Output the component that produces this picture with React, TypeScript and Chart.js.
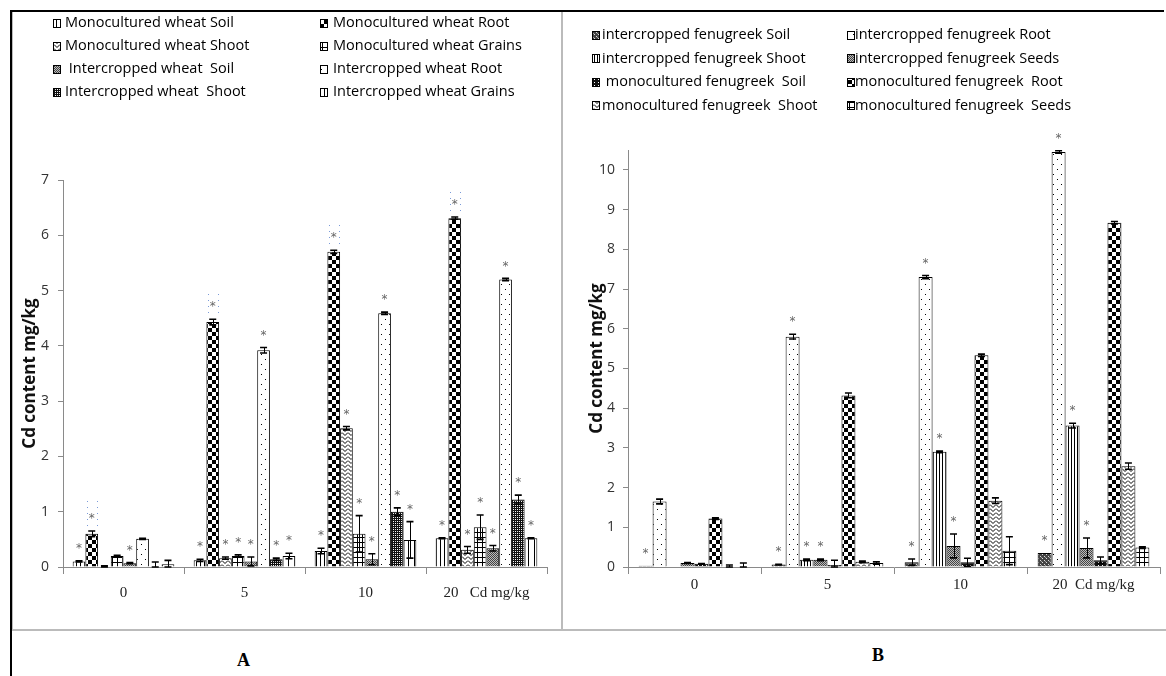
import React, { useEffect, useRef } from 'react';
import { Chart, registerables } from 'chart.js';
Chart.register(...registerables);

// ---------- data ----------
const categoriesA = ['0', '5', '10', '20   Cd mg/kg'];
const categoriesB = ['0', '5', '10', '20  Cd mg/kg'];

const seriesNamesA = [
  'Monocultured wheat Soil',
  'Monocultured wheat Root',
  'Monocultured wheat Shoot',
  'Monocultured wheat Grains',
  ' Intercropped wheat  Soil',
  'Intercropped wheat Root',
  'Intercropped wheat  Shoot',
  'Intercropped wheat Grains',
];
const monoWheatSoil = [0.1, 0.12, 0.29, 0.52];
const monoWheatRoot = [0.6, 4.43, 5.7, 6.31];
const monoWheatShoot = [0.01, 0.16, 2.51, 0.31];
const monoWheatGrains = [0.2, 0.2, 0.6, 0.72];
const interWheatSoil = [0.07, 0.1, 0.14, 0.34];
const interWheatRoot = [0.51, 3.92, 4.59, 5.2];
const interWheatShoot = [0.01, 0.14, 1.0, 1.22];
const interWheatGrains = [0.05, 0.2, 0.49, 0.52];

const monoWheatSoilErr = [0.01, 0.02, 0.05, 0.01];
const monoWheatRootErr = [0.05, 0.05, 0.03, 0.02];
const monoWheatShootErr = [0.01, 0.02, 0.03, 0.06];
const monoWheatGrainsErr = [0.01, 0.02, 0.33, 0.22];
const interWheatSoilErr = [0.01, 0.08, 0.1, 0.05];
const interWheatRootErr = [0.01, 0.05, 0.02, 0.02];
const interWheatShootErr = [0.08, 0.02, 0.07, 0.08];
const interWheatGrainsErr = [0.07, 0.05, 0.33, 0.01];

const monoWheatSoilStar = [1, 1, 1, 1];
const monoWheatRootStar = [1, 1, 1, 1];
const monoWheatShootStar = [0, 1, 1, 1];
const monoWheatGrainsStar = [0, 1, 1, 1];
const interWheatSoilStar = [1, 1, 1, 1];
const interWheatRootStar = [0, 1, 1, 1];
const interWheatShootStar = [0, 1, 1, 1];
const interWheatGrainsStar = [0, 1, 1, 1];

const seriesNamesB = [
  'intercropped fenugreek Soil',
  'intercropped fenugreek Root',
  'intercropped fenugreek Shoot',
  'intercropped fenugreek Seeds',
  ' monocultured fenugreek  Soil',
  'monocultured fenugreek  Root',
  'monocultured fenugreek  Shoot',
  'monocultured fenugreek  Seeds',
];
const interFenuSoil = [0.03, 0.06, 0.12, 0.35];
const interFenuRoot = [1.65, 5.8, 7.3, 10.45];
const interFenuShoot = [0, 0.18, 2.9, 3.56];
const interFenuSeeds = [0.1, 0.18, 0.53, 0.48];
const monoFenuSoil = [0.08, 0.05, 0.12, 0.17];
const monoFenuRoot = [1.22, 4.32, 5.33, 8.67];
const monoFenuShoot = [0, 0.13, 1.67, 2.54];
const monoFenuSeeds = [0, 0.1, 0.41, 0.49];

const interFenuSoilErr = [0, 0.01, 0.08, 0];
const interFenuRootErr = [0.06, 0.06, 0.04, 0.03];
const interFenuShootErr = [0, 0.02, 0.02, 0.06];
const interFenuSeedsErr = [0.01, 0.02, 0.3, 0.25];
const monoFenuSoilErr = [0.01, 0.12, 0.1, 0.08];
const monoFenuRootErr = [0.02, 0.06, 0.03, 0.03];
const monoFenuShootErr = [0.05, 0.02, 0.07, 0.08];
const monoFenuSeedsErr = [0.1, 0.03, 0.35, 0.02];

const interFenuSoilStar = [1, 1, 1, 1];
const interFenuRootStar = [0, 1, 1, 1];
const interFenuShootStar = [0, 1, 1, 1];
const interFenuSeedsStar = [0, 1, 1, 1];
const monoFenuSoilStar = [0, 0, 0, 0];
const monoFenuRootStar = [0, 0, 0, 0];
const monoFenuShootStar = [0, 0, 0, 0];
const monoFenuSeedsStar = [0, 0, 0, 0];

const yTicksA = { min: 0, max: 7, step: 1 };
const yTicksB = { min: 0, max: 10.5, step: 1 };

// ---------- styles ----------
const patternsA = ['vstripe', 'checker', 'zigzag', 'grid', 'gray', 'dots', 'darkdots', 'wstripe'];
const patternsB = ['diagcross', 'dots', 'vstripe3', 'gray', 'blackbox', 'checker', 'zigzag', 'grid'];

function makePattern(kind: string): CanvasPattern | string {
  const c = document.createElement('canvas');
  const g = c.getContext('2d')!;
  const set = (w: number, h: number, bg = '#fff') => {
    c.width = w; c.height = h; g.fillStyle = bg; g.fillRect(0, 0, w, h);
  };
  const px = (x: number, y: number, col: string) => { g.fillStyle = col; g.fillRect(x, y, 1, 1); };
  switch (kind) {
    case 'vstripe': set(4, 2); g.fillStyle = '#000'; g.fillRect(0, 0, 1, 2); break;
    case 'vstripe3': set(3, 2); g.fillStyle = '#000'; g.fillRect(0, 0, 1, 2); break;
    case 'wstripe': set(6, 2); g.fillStyle = '#000'; g.fillRect(0, 0, 1, 2); break;
    case 'checker': set(8, 8); g.fillStyle = '#000'; g.fillRect(0, 0, 4, 4); g.fillRect(4, 4, 4, 4); break;
    case 'zigzag':
      set(6, 4); g.strokeStyle = '#000'; g.lineWidth = 1;
      g.beginPath(); g.moveTo(0, 0.5); g.lineTo(3, 3.5); g.lineTo(6, 0.5); g.stroke(); break;
    case 'grid': set(5, 5); g.fillStyle = '#000'; g.fillRect(0, 0, 5, 1); g.fillRect(0, 0, 1, 5); break;
    case 'gray': set(2, 2, '#bbb'); px(0, 0, '#444'); px(1, 1, '#444'); break;
    case 'dots': set(8, 10); px(1, 2, '#000'); px(5, 7, '#000'); break;
    case 'darkdots': set(4, 4, '#111'); px(1, 1, '#fff'); px(3, 3, '#fff'); px(1, 3, '#ddd'); px(3, 1, '#ddd'); break;
    case 'diagcross': set(4, 4, '#444'); px(0, 0, '#ddd'); px(2, 2, '#ddd'); px(1, 1, '#999'); break;
    case 'blackbox': set(4, 3, '#111'); px(2, 1, '#fff'); break;
    default: return '#fff';
  }
  const p = g.createPattern(c, 'repeat');
  return p || '#fff';
}

const overlayPlugin = {
  id: 'overlay',
  afterDatasetsDraw(chart: any, _args: any, opts: any) {
    const { ctx } = chart;
    const ys = chart.scales.y;
    ctx.save();
    (opts.errors as number[][]).forEach((errs, i) => {
      const meta = chart.getDatasetMeta(i);
      const vals = chart.data.datasets[i].data as number[];
      meta.data.forEach((bar: any, j: number) => {
        const v = vals[j];
        const e = errs[j];
        const x = bar.x;
        const yTop = ys.getPixelForValue(v + e);
        if (e > 0) {
          const yBot = ys.getPixelForValue(Math.max(0, v - e));
          const xl = Math.round(x) + 0.5;
          ctx.strokeStyle = '#000';
          ctx.lineWidth = 1;
          ctx.beginPath(); ctx.moveTo(xl, yTop); ctx.lineTo(xl, yBot); ctx.stroke();
          ctx.lineWidth = 1.6;
          ctx.beginPath();
          ctx.moveTo(x - 3.5, yTop); ctx.lineTo(x + 3.5, yTop);
          ctx.moveTo(x - 3.5, yBot); ctx.lineTo(x + 3.5, yBot);
          ctx.stroke();
        }
        if (opts.stars[i][j]) {
          const sy = yTop - 15;
          if (opts.highlight === i) {
            ctx.fillStyle = '#7a9ad8';
            const top = j === 0 ? ys.getPixelForValue(1.2) : sy - 10;
            for (let yy = top; yy <= sy + 12; yy += 6) {
              ctx.fillRect(Math.round(x - 5), Math.round(yy), 1, 1);
              ctx.fillRect(Math.round(x + 5), Math.round(yy), 1, 1);
            }
          }
          ctx.fillStyle = '#666';
          ctx.font = '12px "DejaVu Sans"';
          ctx.textAlign = 'center';
          ctx.textBaseline = 'middle';
          ctx.fillText('*', x, sy + 3);
        }
      });
    });
    // legend
    const L = opts.legend;
    ctx.font = L.font;
    ctx.textAlign = 'left';
    ctx.textBaseline = 'middle';
    (L.names as string[]).forEach((name, k) => {
      const col = k % 2;
      const row = Math.floor(k / 2);
      const cy = L.rowY + row * L.rowStep;
      const ix = L.iconX[col];
      ctx.fillStyle = L.fills[k];
      ctx.fillRect(ix, Math.round(cy - 4.5), 8, 9);
      ctx.strokeStyle = '#000';
      ctx.lineWidth = 1;
      ctx.strokeRect(ix + 0.5, Math.round(cy - 4.5) + 0.5, 7, 8);
      ctx.fillStyle = '#000';
      ctx.fillText(name, L.textX[col], cy);
    });
    ctx.restore();
  },
};

function buildChart(canvas: HTMLCanvasElement, cfg: any) {
  const fills = cfg.patterns.map((k: string) => makePattern(k));
  const datasets = cfg.values.map((vals: number[], i: number) => ({
    label: cfg.names[i],
    data: vals,
    backgroundColor: fills[i],
    borderColor: '#000',
    borderWidth: 1,
    categoryPercentage: 0.84,
    barPercentage: 1,
  }));
  return new Chart(canvas, {
    type: 'bar',
    data: { labels: cfg.categories, datasets },
    plugins: [overlayPlugin],
    options: {
      responsive: false,
      animation: false,
      layout: { padding: cfg.padding },
      plugins: {
        legend: { display: false },
        tooltip: { enabled: false },
        overlay: {
          errors: cfg.errors,
          stars: cfg.stars,
          highlight: cfg.highlight,
          legend: { ...cfg.legend, names: cfg.names, fills },
        },
      } as any,
      scales: {
        x: {
          type: 'category',
          grid: { display: true, drawOnChartArea: false, drawTicks: true, tickLength: 7, offset: true, color: '#8a8a8a' },
          border: { display: true, color: '#8a8a8a' },
          ticks: {
            padding: cfg.xPad,
            autoSkip: false,
            maxRotation: 0,
            color: '#222',
            font: { family: '"Liberation Serif"', size: 15 },
          },
          afterFit: (s: any) => { s.height = 61; },
        },
        y: {
          min: cfg.y.min,
          max: cfg.y.max,
          ticks: {
            stepSize: cfg.y.step,
            includeBounds: false,
            padding: cfg.yPad,
            color: '#333',
            font: { family: '"Open Sans"', size: 14 },
          },
          grid: { drawOnChartArea: false, tickLength: 5, color: '#8a8a8a' },
          border: { display: true, color: '#8a8a8a' },
          title: {
            display: true,
            text: 'Cd content mg/kg',
            color: '#111',
            font: { family: '"Open Sans"', size: 17, weight: 'bold' },
            padding: { top: cfg.titlePad, bottom: 0 },
          },
          afterFit: (s: any) => { s.width = cfg.yWidth; },
        },
      } as any,
    },
  });
}

export default function App() {
  const refA = useRef<HTMLCanvasElement>(null);
  const refB = useRef<HTMLCanvasElement>(null);

  useEffect(() => {
    const a = buildChart(refA.current!, {
      categories: categoriesA,
      names: seriesNamesA,
      patterns: patternsA,
      values: [monoWheatSoil, monoWheatRoot, monoWheatShoot, monoWheatGrains, interWheatSoil, interWheatRoot, interWheatShoot, interWheatGrains],
      errors: [monoWheatSoilErr, monoWheatRootErr, monoWheatShootErr, monoWheatGrainsErr, interWheatSoilErr, interWheatRootErr, interWheatShootErr, interWheatGrainsErr],
      stars: [monoWheatSoilStar, monoWheatRootStar, monoWheatShootStar, monoWheatGrainsStar, interWheatSoilStar, interWheatRootStar, interWheatShootStar, interWheatGrainsStar],
      highlight: 1,
      y: yTicksA,
      padding: { top: 168, right: 14, bottom: 0, left: 0 },
      yWidth: 51,
      xPad: 10,
      yPad: 9,
      titlePad: 8,
      legend: { font: '14.5px "Open Sans"', rowY: 11, rowStep: 23, iconX: [41, 308], textX: [53, 321] },
    });
    const b = buildChart(refB.current!, {
      categories: categoriesB,
      names: seriesNamesB,
      patterns: patternsB,
      values: [interFenuSoil, interFenuRoot, interFenuShoot, interFenuSeeds, monoFenuSoil, monoFenuRoot, monoFenuShoot, monoFenuSeeds],
      errors: [interFenuSoilErr, interFenuRootErr, interFenuShootErr, interFenuSeedsErr, monoFenuSoilErr, monoFenuRootErr, monoFenuShootErr, monoFenuSeedsErr],
      stars: [interFenuSoilStar, interFenuRootStar, interFenuShootStar, interFenuSeedsStar, monoFenuSoilStar, monoFenuRootStar, monoFenuShootStar, monoFenuSeedsStar],
      highlight: -1,
      y: yTicksB,
      padding: { top: 138, right: 6, bottom: 0, left: 0 },
      yWidth: 64,
      xPad: 2,
      yPad: 8,
      titlePad: 23,
      legend: { font: '14.5px "Open Sans"', rowY: 23, rowStep: 23.5, iconX: [28, 283], textX: [38, 291] },
    });
    return () => { a.destroy(); b.destroy(); };
  }, []);

  const line = (s: React.CSSProperties): React.CSSProperties => ({ position: 'absolute', ...s });

  return (
    <div style={{ position: 'absolute', left: 0, top: 0, width: 1166, height: 676, background: '#fff', overflow: 'hidden' }}>
      <div style={line({ left: 10, top: 10, width: 1154, height: 2, background: '#000' })} />
      <div style={line({ left: 10, top: 10, width: 2, height: 666, background: '#000' })} />
      <div style={line({ left: 12, top: 12, width: 1, height: 618, background: '#bbb' })} />
      <div style={line({ left: 561, top: 12, width: 2, height: 618, background: '#bbb' })} />
      <div style={line({ left: 12, top: 629, width: 1154, height: 2, background: '#bbb' })} />
      <canvas ref={refA} width={549} height={616} style={{ position: 'absolute', left: 12, top: 12 }} />
      <canvas ref={refB} width={602} height={616} style={{ position: 'absolute', left: 564, top: 12 }} />
      <div style={{ position: 'absolute', left: 237, top: 650, fontFamily: '"Liberation Serif", serif', fontWeight: 'bold', fontSize: 18 }}>A</div>
      <div style={{ position: 'absolute', left: 872, top: 645, fontFamily: '"Liberation Serif", serif', fontWeight: 'bold', fontSize: 18 }}>B</div>
    </div>
  );
}
